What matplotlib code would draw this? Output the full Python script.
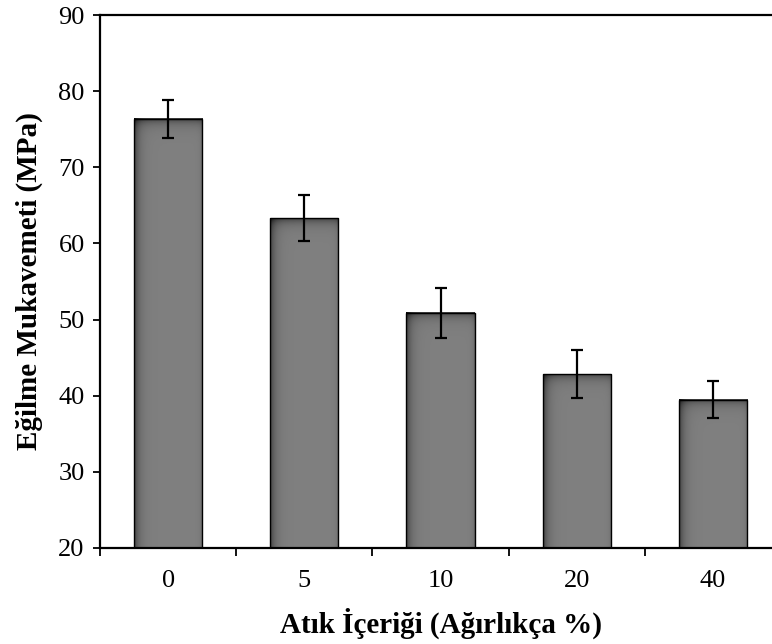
import numpy as np
import matplotlib
matplotlib.use("Agg")
import matplotlib.pyplot as plt

categories = ["0", "5", "10", "20", "40"]
values = [76.4, 63.3, 50.9, 42.8, 39.5]
errors = [2.5, 3.0, 3.3, 3.15, 2.4]

plt.rcParams["font.family"] = ["Liberation Serif", "DejaVu Serif"]

W, H = 772, 644
fig = plt.figure(figsize=(W / 100, H / 100), dpi=100)
ax = fig.add_axes([100 / W, 96 / H, 681 / W, 533 / H])

x = np.arange(len(categories))
width = 0.5
ymin, ymax = 20, 90
px_per_unit = 533 / (ymax - ymin)

# shaded gray bars
for xi, v in zip(x, values):
    x0, x1 = xi - width / 2, xi + width / 2
    u = np.linspace(0, 1, 80)[None, :]
    d = np.linspace(0, (v - ymin) * px_per_unit, 200)[:, None]
    shade = 0.5 - 0.25 * np.exp(-u / 0.07) - 0.08 * np.exp(-(1 - u) / 0.03) \
        - 0.22 * np.exp(-d / 5.0)
    shade = np.clip(shade, 0, 1)
    img = np.dstack([shade, shade, shade])
    ax.imshow(img, extent=(x0, x1, ymin, v), aspect="auto", origin="upper",
              zorder=2, interpolation="bilinear")
ax.bar(x, [v - ymin for v in values], width, bottom=ymin, facecolor="none",
       edgecolor="black", linewidth=1.0, zorder=3)
ax.errorbar(x, values, yerr=errors, fmt="none", ecolor="black",
            elinewidth=1.6, capsize=4.5, capthick=1.6, zorder=4)

ax.set_xlim(-0.5, len(categories) - 0.5)
ax.set_ylim(ymin, ymax)
ax.set_yticks(range(20, 91, 10))
ax.set_xticks(x)
ax.set_xticklabels(categories)
ax.set_xticks(np.arange(-0.5, len(categories)), minor=True)
ax.tick_params(axis="x", which="major", length=0, pad=16, labelsize=19)
ax.tick_params(axis="x", which="minor", length=6, width=1.3, direction="out")
ax.tick_params(axis="y", length=5, width=1.3, direction="out", pad=6,
               labelsize=19)

for s in ["left", "bottom", "top"]:
    ax.spines[s].set_linewidth(1.6)
ax.spines["right"].set_visible(False)

ax.set_xlabel("Atık İçeriği (Ağırlıkça %)", fontsize=21, fontweight="bold",
              labelpad=11)
ax.set_ylabel("Eğilme Mukavemeti (MPa)", fontsize=21, fontweight="bold",
              labelpad=11)

fig.savefig("out.png", dpi=100)
